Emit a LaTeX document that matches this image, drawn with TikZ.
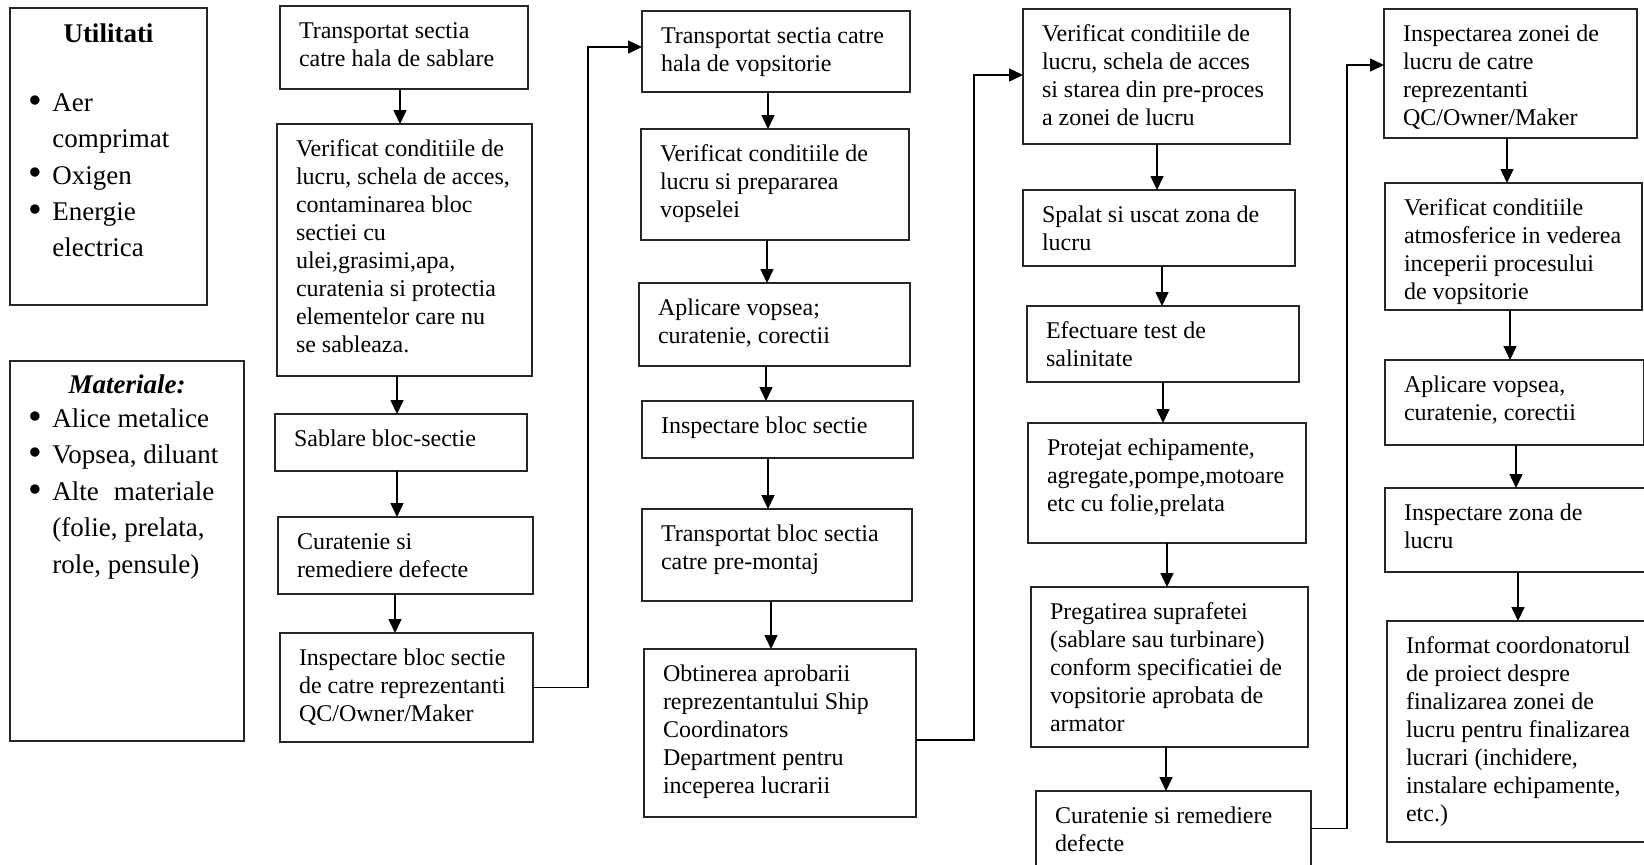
\documentclass[tikz,border=0pt]{standalone}
\usepackage{fontspec}
\usepackage{graphicx}
\setmainfont{Liberation Serif}
\usetikzlibrary{arrows.meta,calc}
\tikzset{
  box/.style={draw=black!85, line width=0.75pt, inner sep=0pt, outer sep=0pt, anchor=north west, font=\fontsize{12}{14}\selectfont},
  sidebox/.style={box, font=\fontsize{13.5}{18.2}\selectfont},
  arr/.style={draw=black, line width=0.75pt, -{Triangle[width=6.5pt,length=7pt]}},
}
\newcommand\bx[6]{\node[box] (#1) at (#2,#3) {\begin{minipage}[c][\dimexpr(#5pt-#3pt)/2\relax][t]{\dimexpr(#4pt-#2pt)/2\relax}\raggedright\leftskip=9.5pt\rightskip=-40pt plus 1fil\relax\vspace*{6.4pt}\strut #6\par\end{minipage}};}
\newcommand\va[3]{\coordinate (vx) at (#3,0); \draw[arr] (#1.south -| vx) -- (#2.north -| vx);}
\newcommand\bul[1]{\hspace*{9.3pt}\makebox[11.9pt][l]{\raisebox{-0.15ex}{\scalebox{1.45}{\textbullet}}}#1}
\newcommand\ind[1]{\hspace*{21.2pt}#1}
\begin{document}
\begin{tikzpicture}[x=0.5pt,y=-0.5pt]
\useasboundingbox (0,0) rectangle (1644,864);
\clip (0,0) rectangle (1644,864);

% side boxes
\node[sidebox] (U) at (10,8) {\begin{minipage}[c][148.5pt][t]{98.5pt}\vspace*{4.7pt}{\centering\strut\textbf{Utilitati}\par}\vspace{16pt}\raggedright
\bul{Aer}\\\ind{comprimat}\\\bul{Oxigen}\\\bul{Energie}\\\ind{electrica}\par\end{minipage}};
\node[sidebox] (M) at (10,361) {\begin{minipage}[c][190pt][t]{117pt}\vspace*{3.3pt}{\centering\strut\textbf{\textit{Materiale:}}\par}\vspace{-1pt}\raggedright
\bul{Alice metalice}\\\bul{Vopsea, diluant}\\\bul{Alte\hspace{7.5pt}materiale}\\\ind{(folie, prelata,}\\\ind{role, pensule)}\par\end{minipage}};

% column 1
\bx{T1}{280}{6}{528}{89}{Transportat sectia\\catre hala de sablare}
\bx{V1}{277}{124}{532}{376}{Verificat conditiile de\\lucru, schela de acces,\\contaminarea bloc\\sectiei cu\\ulei,grasimi,apa,\\curatenia si protectia\\elementelor care nu\\se sableaza.}
\bx{S1}{275}{414}{527}{471}{Sablare bloc-sectie}
\bx{C1}{278}{517}{533}{594}{Curatenie si\\remediere defecte}
\bx{I1}{280}{633}{533}{742}{Inspectare bloc sectie\\de catre reprezentanti\\QC/Owner/Maker}

% column 2
\bx{T2}{642}{11}{910}{92}{Transportat sectia catre\\hala de vopsitorie}
\bx{V2}{641}{129}{909}{240}{Verificat conditiile de\\lucru si prepararea\\vopselei}
\bx{A2}{639}{283}{910}{366}{Aplicare vopsea;\\curatenie, corectii}
\bx{IB}{642}{401}{913}{458}{Inspectare bloc sectie}
\bx{TB}{642}{509}{912}{601}{Transportat bloc sectia\\catre pre-montaj}
\bx{OB}{644}{649}{916}{817}{Obtinerea aprobarii\\reprezentantului Ship\\Coordinators\\Department pentru\\inceperea lucrarii}

% column 3
\bx{V3}{1023}{9}{1290}{144}{Verificat conditiile de\\lucru, schela de acces\\si starea din pre-proces\\a zonei de lucru}
\bx{SP}{1023}{190}{1295}{266}{Spalat si uscat zona de\\lucru}
\bx{EF}{1027}{306}{1299}{382}{Efectuare test de\\salinitate}
\bx{PR}{1028}{423}{1306}{543}{Protejat echipamente,\\agregate,pompe,motoare\\etc cu folie,prelata}
\bx{PG}{1031}{587}{1308}{747}{Pregatirea suprafetei\\(sablare sau turbinare)\\conform specificatiei de\\vopsitorie aprobata de\\armator}
\bx{C3}{1036}{791}{1311}{866}{Curatenie si remediere\\defecte}

% column 4
\bx{IZ}{1384}{9}{1637}{138}{Inspectarea zonei de\\lucru de catre\\reprezentanti\\QC/Owner/Maker}
\bx{VA}{1385}{183}{1642}{310}{Verificat conditiile\\atmosferice in vederea\\inceperii procesului\\de vopsitorie}
\bx{AP}{1385}{360}{1644}{445}{Aplicare vopsea,\\curatenie, corectii}
\bx{IZB}{1385}{488}{1660}{572}{Inspectare zona de\\lucru}
\bx{IF}{1387}{621}{1660}{842}{Informat coordonatorul\\de proiect despre\\finalizarea zonei de\\lucru pentru finalizarea\\lucrari (inchidere,\\instalare echipamente,\\etc.)}

% vertical arrows
\va{T1}{V1}{400}
\va{V1}{S1}{397}
\va{S1}{C1}{397}
\va{C1}{I1}{395}
\va{T2}{V2}{768}
\va{V2}{A2}{767}
\va{A2}{IB}{766}
\va{IB}{TB}{768}
\va{TB}{OB}{771}
\va{V3}{SP}{1157}
\va{SP}{EF}{1162}
\va{EF}{PR}{1163}
\va{PR}{PG}{1167}
\va{PG}{C3}{1166}
\va{IZ}{VA}{1507}
\va{VA}{AP}{1510}
\va{AP}{IZB}{1516}
\va{IZB}{IF}{1518}

% column links
\coordinate (k1) at (588,47);
\draw[arr] (I1.east) -| (k1) -- (T2.west |- k1);
\coordinate (k2) at (974,75);
\draw[arr] ($(OB.east)+(0,7)$) -| (k2) -- (V3.west |- k2);
\coordinate (k3) at (1347,65);
\draw[arr] (C3.east) -| (k3) -- (IZ.west |- k3);
\end{tikzpicture}
\end{document}
